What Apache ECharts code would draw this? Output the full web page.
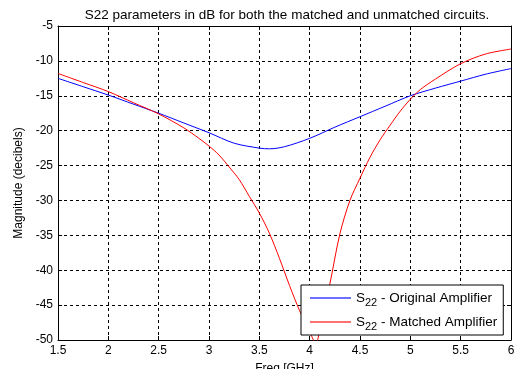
<!DOCTYPE html>
<html>
<head>
<meta charset="utf-8">
<script src="https://cdn.jsdelivr.net/npm/echarts@6/dist/echarts.min.js"></script>
<style>html,body{margin:0;padding:0;background:#fff;}#c{width:520px;height:369px;}</style>
</head>
<body>
<div id="c"></div>
<script>
var titleText = 'S22 parameters in dB for both the matched and unmatched circuits.';
var xName = 'Freq [GHz]';
var yName = 'Magnitude (decibels)';
var seriesNames = ['S22 - Original Amplifier', 'S22 - Matched Amplifier'];

var origFreq = [1.5, 1.75, 2.0, 2.25, 2.5, 2.75, 3.0, 3.25, 3.5, 3.6, 3.75, 4.0, 4.25, 4.5, 4.75, 5.0, 5.25, 5.5, 5.75, 6.0];
var origDb   = [-12.5, -13.7, -14.9, -16.2, -17.5, -18.9, -20.3, -21.8, -22.5, -22.6, -22.3, -21.1, -19.5, -18.0, -16.5, -15.0, -13.9, -12.9, -11.9, -11.1];

var matchFreq = [1.5, 1.75, 2.0, 2.25, 2.5, 2.75, 2.9, 3.0, 3.1, 3.2, 3.3, 3.4, 3.5, 3.6, 3.7, 3.8, 3.9, 4.0, 4.06, 4.12, 4.2, 4.3, 4.4, 4.5, 4.6, 4.7, 4.8, 4.9, 5.0, 5.1, 5.25, 5.5, 5.75, 6.0];
var matchDb   = [-11.8, -13.1, -14.4, -16.0, -17.6, -19.6, -21.1, -22.2, -23.5, -25.2, -27.0, -29.4, -31.8, -34.7, -38.3, -42.2, -45.8, -48.8, -50.5, -47.0, -42.0, -34.8, -30.0, -26.8, -23.8, -21.3, -19.2, -17.2, -15.5, -14.1, -12.6, -10.4, -9.0, -8.3];

function pairs(xs, ys) { return xs.map(function (x, i) { return [x, ys[i]]; }); }

var FONT = 'Liberation Sans, Arial, sans-serif';
var chart = echarts.init(document.getElementById('c'), null, {renderer: 'canvas'});

var boxAxisCommon = {
  axisLine: {show: true, onZero: false, lineStyle: {color: '#000', width: 1}},
  axisTick: {show: true, inside: true, length: 4, lineStyle: {color: '#000'}},
  axisLabel: {show: false},
  splitLine: {show: false}
};

chart.setOption({
  animation: false,
  backgroundColor: '#fff',
  title: {
    text: titleText,
    left: 282, top: 3, textAlign: 'center',
    textStyle: {fontFamily: FONT, fontSize: 13.5, fontWeight: 'normal', color: '#000'}
  },
  grid: {left: 58, right: 9, top: 26, bottom: 29, containLabel: false, outerBoundsMode: 'none'},
  xAxis: [{
    type: 'value', min: 1.5, max: 6, interval: 0.5,
    name: xName, nameLocation: 'middle', nameGap: 23,
    nameTextStyle: {fontFamily: FONT, fontSize: 12, color: '#000'},
    axisLine: {show: true, onZero: false, lineStyle: {color: '#000', width: 1}},
    axisTick: {show: true, inside: true, length: 4, lineStyle: {color: '#000'}},
    axisLabel: {fontFamily: FONT, fontSize: 12, color: '#000', margin: 5,
      formatter: function (v) { return String(v); }},
    splitLine: {show: true, lineStyle: {color: '#000', type: [3, 3], width: 1}}
  }, Object.assign({type: 'value', min: 1.5, max: 6, interval: 0.5, position: 'top'}, boxAxisCommon)],
  yAxis: [{
    type: 'value', min: -50, max: -5, interval: 5,
    name: yName, nameLocation: 'middle', nameGap: 32, nameRotate: 90,
    nameTextStyle: {fontFamily: FONT, fontSize: 12, color: '#000'},
    axisLine: {show: true, onZero: false, lineStyle: {color: '#000', width: 1}},
    axisTick: {show: true, inside: true, length: 4, lineStyle: {color: '#000'}},
    axisLabel: {fontFamily: FONT, fontSize: 12, color: '#000', margin: 5},
    splitLine: {show: true, lineStyle: {color: '#000', type: [3, 3], width: 1}}
  }, Object.assign({type: 'value', min: -50, max: -5, interval: 5, position: 'right'}, boxAxisCommon)],
  legend: {
    orient: 'vertical',
    left: 301, top: 285,
    padding: [3, 6, 3, 9],
    backgroundColor: '#fff',
    borderColor: '#000', borderWidth: 1, borderRadius: 0,
    itemWidth: 41, itemHeight: 2, itemGap: 4,
    data: [
      {name: seriesNames[0], icon: 'rect', itemStyle: {color: '#6f6fff'}},
      {name: seriesNames[1], icon: 'rect', itemStyle: {color: '#ff7070'}}
    ],
    formatter: function (name) {
      var rest = name.slice(3);
      return '{a|S}{s|22}{a|' + rest + '}';
    },
    textStyle: {
      fontFamily: FONT, fontSize: 13.5, color: '#000', width: 142, overflow: 'none',
      rich: {
        a: {fontFamily: FONT, fontSize: 13.5, color: '#000', lineHeight: 16},
        s: {fontFamily: FONT, fontSize: 11, color: '#000', padding: [9, 0, 0, 0], lineHeight: 16}
      }
    }
  },
  series: [{
    name: seriesNames[0], type: 'line', symbol: 'none', smooth: 0.3,
    lineStyle: {color: '#0000ff', width: 1}, itemStyle: {color: '#0000ff'},
    data: pairs(origFreq, origDb), clip: true
  }, {
    name: seriesNames[1], type: 'line', symbol: 'none', smooth: 0.3,
    lineStyle: {color: '#ff0000', width: 1}, itemStyle: {color: '#ff0000'},
    data: pairs(matchFreq, matchDb), clip: true
  }]
});
</script>
</body>
</html>
